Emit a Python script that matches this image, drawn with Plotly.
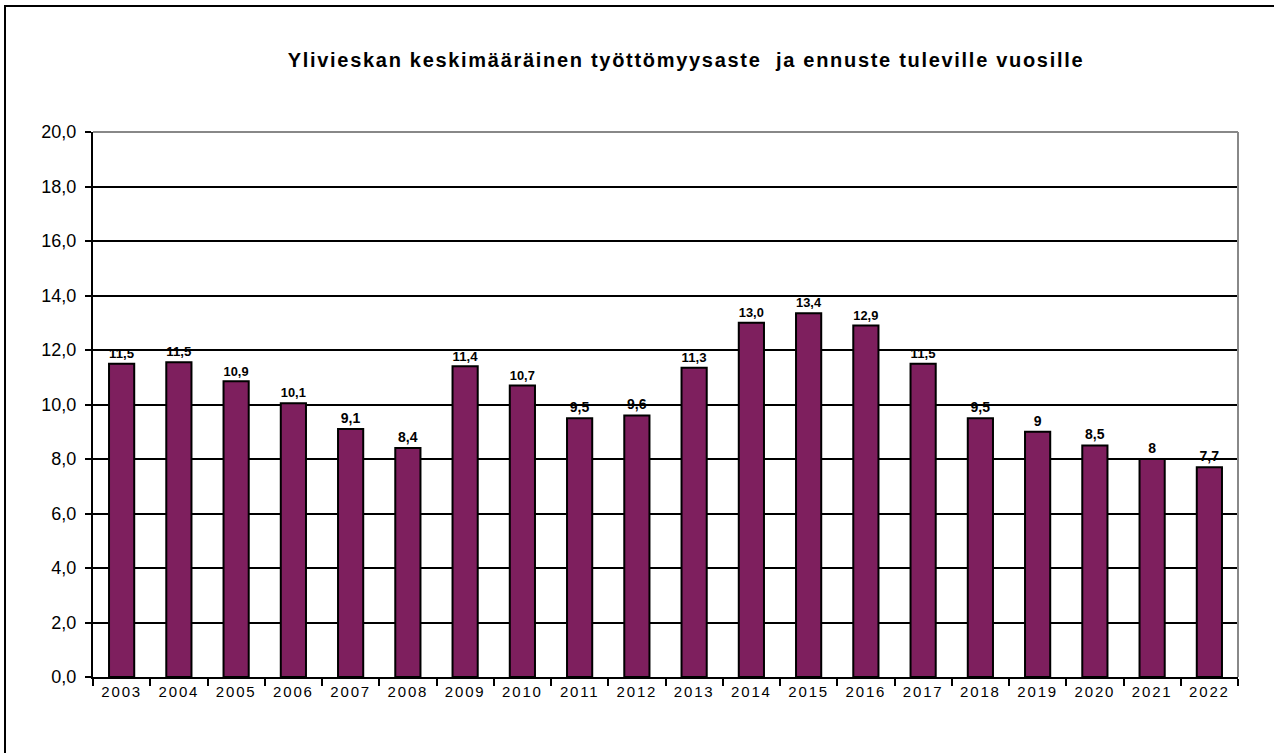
import plotly.graph_objects as go

years = ["2003", "2004", "2005", "2006", "2007", "2008", "2009", "2010", "2011", "2012",
         "2013", "2014", "2015", "2016", "2017", "2018", "2019", "2020", "2021", "2022"]
values = [11.5, 11.55, 10.85, 10.05, 9.1, 8.4, 11.4, 10.7, 9.5, 9.6,
          11.35, 13.0, 13.35, 12.9, 11.5, 9.5, 9.0, 8.5, 8.0, 7.7]
labels = ["11,5", "11,5", "10,9", "10,1", "9,1", "8,4", "11,4", "10,7", "9,5", "9,6",
          "11,3", "13,0", "13,4", "12,9", "11,5", "9,5", "9", "8,5", "8", "7,7"]
yticks = [0, 2, 4, 6, 8, 10, 12, 14, 16, 18, 20]

W, H = 1274, 753
ml, mr, mt, mb = 93, 36, 132, 76
pw, ph = W - ml - mr, H - mt - mb

def px(x):
    return (x - ml) / pw

def py(y):
    return (H - mb - y) / ph

fig = go.Figure(go.Bar(
    x=years, y=values, text=labels, textposition="outside",
    textfont=dict(family="Liberation Sans, Arial", size=14, color="black"),
    texttemplate="<b>%{text}</b>",
    marker=dict(color="#7E1F5E", line=dict(color="black", width=2)),
    cliponaxis=False,
))

fig.update_layout(
    width=W, height=H,
    margin=dict(l=ml, r=mr, t=mt, b=mb),
    paper_bgcolor="white", plot_bgcolor="white",
    bargap=0.56,
    showlegend=False,
    separators=",.",
    title=dict(text="<b>Ylivieskan keskimääräinen työttömyysaste  ja ennuste tuleville vuosille</b>",
               xref="container", x=686 / W, xanchor="center",
               yref="container", y=1 - 60 / H, yanchor="middle",
               font=dict(family="Liberation Sans, Arial", size=20, color="black")),
    font=dict(family="Liberation Sans, Arial", color="black"),
)

fig.update_xaxes(
    type="category", showline=True, linecolor="black", linewidth=2,
    ticks="outside", tickson="boundaries", ticklen=7, tickwidth=2, tickcolor="black",
    tickfont=dict(size=15, color="black"), showgrid=False,
)
fig.update_yaxes(
    range=[0, 20], tickvals=yticks, tickformat=".1f",
    showline=True, linecolor="black", linewidth=2,
    ticks="outside", ticklen=6, tickwidth=2, tickcolor="black",
    tickfont=dict(size=18, color="black"), ticklabelstandoff=5,
    showgrid=True, gridcolor="black", gridwidth=1.5, zeroline=False,
)

# plot area border (top and right, gray)
fig.add_shape(type="line", xref="paper", yref="paper", x0=0, x1=1, y0=1, y1=1,
              line=dict(color="#888888", width=2), layer="above")
fig.add_shape(type="line", xref="paper", yref="paper", x0=1, x1=1, y0=0, y1=1,
              line=dict(color="#888888", width=2), layer="above")
# outer chart border
fig.add_shape(type="rect", xref="paper", yref="paper",
              x0=px(5), x1=px(1290), y0=py(770), y1=py(6),
              line=dict(color="black", width=2), fillcolor="rgba(0,0,0,0)", layer="below")

post = """
document.body.style.margin='0px';
document.body.style.overflow='hidden';
var st=document.createElement('style');
st.textContent='.xtick text{letter-spacing:1.8px;} .gtitle{letter-spacing:1.7px;} .textpoint text{letter-spacing:0.8px;}';
document.head.appendChild(st);
"""
fig.write_html("out.html", post_script=post, config={"displayModeBar": False})
